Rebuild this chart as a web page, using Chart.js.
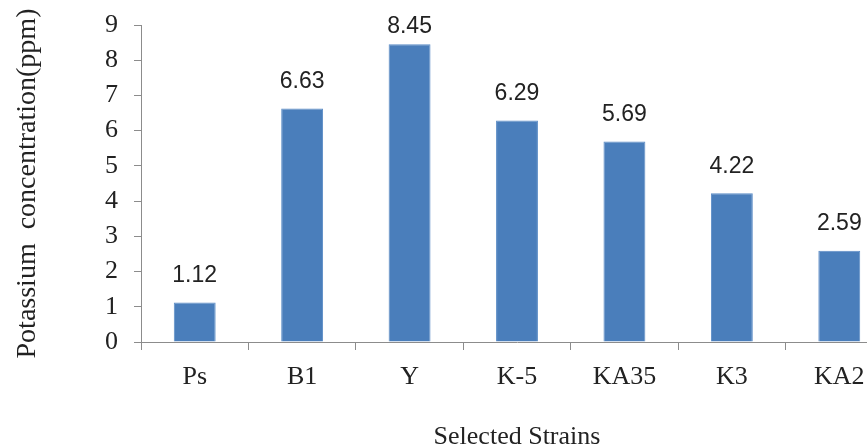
<!DOCTYPE html>
<html>
<head>
<meta charset="utf-8">
<script src="https://cdn.jsdelivr.net/npm/chart.js@4"></script>
<style>
  html, body { margin: 0; padding: 0; overflow: hidden; background: #fff; }
  #wrap { width: 900px; height: 460px; }
</style>
</head>
<body>
<div id="wrap"><canvas id="bar-chart" width="900" height="460"></canvas></div>
<script>
// DATA
const strains = ['Ps', 'B1', 'Y', 'K-5', 'KA35', 'K3', 'KA2'];
const potassium = [1.12, 6.63, 8.45, 6.29, 5.69, 4.22, 2.59];
const yTicks = [0, 1, 2, 3, 4, 5, 6, 7, 8, 9];

const serif = '"Liberation Serif", "Times New Roman", serif';
const sans = '"Liberation Sans", Arial, sans-serif';

// value labels above each bar
const valueLabels = {
    id: 'valueLabels',
    afterDatasetsDraw(chart) {
        const ctx = chart.ctx;
        const meta = chart.getDatasetMeta(0);
        ctx.save();
        ctx.font = '23px ' + sans;
        ctx.fillStyle = '#222';
        ctx.textAlign = 'center';
        ctx.textBaseline = 'middle';
        meta.data.forEach((bar, i) => {
            ctx.fillText(potassium[i].toFixed(2), bar.x, Math.max(bar.y - 27, 27));
        });
        ctx.restore();
    }
};

const ctx = document.getElementById('bar-chart').getContext('2d');
new Chart(ctx, {
    type: 'bar',
    data: {
        labels: strains,
        datasets: [{
            data: potassium,
            backgroundColor: '#4a7ebb',
            borderColor: '#5b8cc6',
            borderWidth: 1,
            barPercentage: 0.39,
            categoryPercentage: 1
        }]
    },
    options: {
        responsive: false,
        animation: false,
        layout: { padding: { top: 25, right: 7, left: 0, bottom: 0 } },
        plugins: {
            legend: { display: false },
            tooltip: { enabled: false }
        },
        scales: {
            x: {
                grid: { display: true, drawOnChartArea: false, tickLength: 8, color: '#8c8c8c' },
                border: { color: '#8c8c8c', width: 1 },
                ticks: { font: { family: serif, size: 26 }, color: '#222', padding: 12, maxRotation: 0 },
                title: {
                    display: true,
                    text: 'Selected Strains',
                    font: { family: serif, size: 26 },
                    color: '#222',
                    padding: { top: 0, bottom: 7 }
                },
                afterFit: (scale) => { scale.height = 118; }
            },
            y: {
                min: 0,
                max: 9,
                afterBuildTicks: (scale) => { scale.ticks = yTicks.map(v => ({ value: v })); },
                grid: { display: true, drawOnChartArea: false, tickLength: 7, color: '#8c8c8c' },
                border: { color: '#8c8c8c', width: 1 },
                ticks: { font: { family: serif, size: 26 }, color: '#222', padding: 16 },
                title: {
                    display: true,
                    text: 'Potassium  concentration(ppm)',
                    font: { family: serif, size: 28 },
                    color: '#222',
                    padding: { top: 11, bottom: 0 }
                },
                afterFit: (scale) => {
                    scale.width = 141;
                    scale.paddingTop = 0;
                    scale.paddingBottom = 0;
                }
            }
        }
    },
    plugins: [valueLabels]
});
</script>
</body>
</html>
